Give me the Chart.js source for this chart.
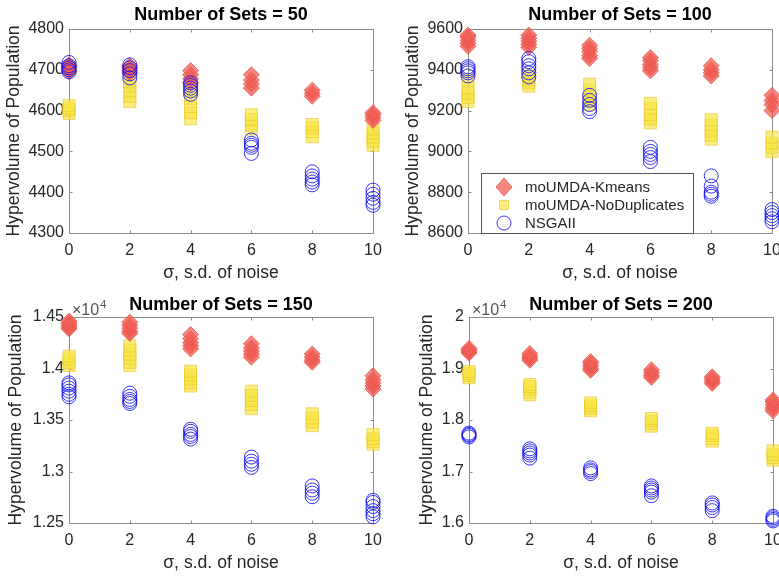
<!DOCTYPE html>
<html>
<head>
<meta charset="utf-8">
<script src="https://cdn.jsdelivr.net/npm/chart.js@4.4.0/dist/chart.umd.min.js"></script>
<style>
  html, body { margin: 0; padding: 0; background: #fff; overflow: hidden; width: 779px; height: 576px; }
  canvas { position: absolute; }
</style>
</head>
<body>
<canvas id="c50" width="390" height="290" style="left:0;top:0"></canvas>
<canvas id="c100" width="400" height="290" style="left:390px;top:0"></canvas>
<canvas id="c150" width="390" height="286" style="left:0;top:290px"></canvas>
<canvas id="c200" width="400" height="286" style="left:390px;top:290px"></canvas>
<script>
const sigmaValues = [0, 2, 4, 6, 8, 10];
const seriesNames = ["moUMDA-Kmeans", "moUMDA-NoDuplicates", "NSGAII"];

// hypervolume of each run, one inner list per sigma value
const kmeans50 = [[4695, 4700, 4705, 4710, 4712], [4692, 4698, 4705, 4710], [4668, 4678, 4688, 4698], [4655, 4665, 4675, 4688], [4635, 4642, 4650], [4576, 4583, 4590, 4595]];
const noDup50 = [[4593, 4600, 4605, 4612], [4622, 4635, 4648, 4660, 4670], [4580, 4595, 4610, 4630, 4648], [4555, 4565, 4578, 4590], [4536, 4548, 4558, 4566], [4515, 4525, 4535, 4545, 4555]];
const nsga50 = [[4695, 4700, 4705, 4710, 4718], [4680, 4690, 4698, 4705, 4712], [4640, 4648, 4655, 4662, 4668], [4495, 4510, 4515, 4520, 4528], [4418, 4425, 4432, 4440, 4450], [4368, 4375, 4385, 4395, 4405]];

const kmeans100 = [[9515, 9530, 9545, 9560, 9570], [9510, 9525, 9540, 9555, 9570], [9455, 9470, 9490, 9505, 9520], [9395, 9410, 9425, 9445, 9460], [9370, 9385, 9400, 9420], [9200, 9230, 9250, 9275]];
const noDup100 = [[9245, 9265, 9285, 9310, 9350], [9320, 9335, 9350, 9370], [9230, 9250, 9270, 9300, 9330], [9140, 9160, 9180, 9210, 9235], [9060, 9080, 9100, 9130, 9155], [9000, 9020, 9040, 9070]];
const nsga100 = [[9370, 9385, 9395, 9405, 9415], [9365, 9385, 9405, 9420, 9440, 9455], [9195, 9210, 9230, 9250, 9275], [8950, 8970, 8985, 9000, 9020], [8780, 8790, 8800, 8830, 8880], [8655, 8670, 8685, 8700, 8715]];

const kmeans150 = [[14385, 14400, 14420, 14440, 14460], [14340, 14360, 14390, 14420, 14450], [14190, 14220, 14250, 14290, 14330], [14110, 14140, 14170, 14200, 14240], [14060, 14080, 14110, 14140], [13800, 13830, 13860, 13890, 13930]];
const noDup150 = [[14030, 14060, 14090, 14120], [14030, 14060, 14100, 14140, 14180, 14220], [13830, 13860, 13900, 13940, 13975], [13610, 13650, 13690, 13740, 13780], [13445, 13480, 13520, 13560], [13265, 13290, 13320, 13360]];
const nsga150 = [[13725, 13750, 13780, 13810, 13840, 13860], [13660, 13680, 13700, 13730, 13760], [13315, 13340, 13360, 13390, 13410], [13040, 13070, 13100, 13140], [12755, 12790, 12820, 12860], [12560, 12590, 12620, 12660, 12700, 12720]];

const kmeans200 = [[19300, 19330, 19360, 19390], [19160, 19200, 19240, 19290], [18965, 19000, 19050, 19100, 19135], [18830, 18870, 18920, 18975], [18710, 18750, 18800, 18840], [18180, 18230, 18290, 18350, 18390]];
const noDup200 = [[18820, 18860, 18900, 18940], [18490, 18540, 18600, 18650, 18690], [18180, 18230, 18280, 18330], [17880, 17930, 17980, 18030], [17590, 17640, 17700, 17740], [17220, 17270, 17330, 17400]];
const nsga200 = [[17670, 17700, 17720, 17745], [17260, 17320, 17360, 17400, 17440], [16960, 17000, 17030, 17070], [16530, 16600, 16640, 16680, 16720], [16240, 16300, 16350, 16390], [16040, 16070, 16100, 16130]];

const FONT = "'Liberation Sans', Arial, Helvetica, sans-serif";
const AXIS_GRAY = "#8c8c8c";
const TEXT_GRAY = "#262626";

const styles = [
  { pointStyle: "rectRot", pointRadius: 8, backgroundColor: "rgba(240,95,85,0.75)", borderColor: "rgba(232,80,70,0.75)", order: 1 },
  { pointStyle: "rect", pointRadius: 8.5, backgroundColor: "rgba(248,230,70,0.68)", borderColor: "rgba(236,196,40,0.6)", order: 2 },
  { pointStyle: "circle", pointRadius: 7, backgroundColor: "rgba(0,0,0,0)", borderColor: "rgba(20,20,245,0.85)", order: 0 }
];

function toPoints(groups) {
  const pts = [];
  groups.forEach((vals, i) => vals.forEach(v => pts.push({ x: sigmaValues[i], y: v })));
  return pts;
}

// axes box with inward tick marks, like matlab
const boxPlugin = {
  id: "box",
  beforeDatasetsDraw(chart) {
    const { ctx, chartArea: a, scales: { x, y } } = chart;
    const L = Math.round(a.left) + 0.5, R = Math.round(a.right) + 0.5;
    const T = Math.round(a.top) + 0.5, B = Math.round(a.bottom) + 0.5;
    ctx.save();
    ctx.strokeStyle = AXIS_GRAY;
    ctx.lineWidth = 1;
    ctx.beginPath();
    ctx.rect(L, T, R - L, B - T);
    x.ticks.forEach(t => {
      const px = Math.round(x.getPixelForValue(t.value)) + 0.5;
      ctx.moveTo(px, B); ctx.lineTo(px, B - 3);
      ctx.moveTo(px, T); ctx.lineTo(px, T + 3);
    });
    y.ticks.forEach(t => {
      const py = Math.round(y.getPixelForValue(t.value)) + 0.5;
      ctx.moveTo(L, py); ctx.lineTo(L + 3, py);
      ctx.moveTo(R, py); ctx.lineTo(R - 3, py);
    });
    ctx.stroke();
    ctx.restore();
  }
};

const exponentPlugin = {
  id: "exponent",
  afterDraw(chart, args, opts) {
    if (!opts.show) return;
    const { ctx, chartArea: a } = chart;
    ctx.save();
    ctx.fillStyle = "#555";
    ctx.textBaseline = "alphabetic";
    ctx.font = "16px " + FONT;
    ctx.fillText("\u00d710", a.left + 3, a.top - 2);
    const w = ctx.measureText("\u00d710").width;
    ctx.font = "11px " + FONT;
    ctx.fillText("4", a.left + 3 + w + 1, a.top - 9);
    ctx.restore();
  }
};

const legendPlugin = {
  id: "boxLegend",
  afterDraw(chart, args, opts) {
    if (!opts.show) return;
    const { ctx, chartArea: a } = chart;
    const bx = Math.round(a.left) + 13.5, by = Math.round(a.top) + 144.5;
    ctx.save();
    ctx.fillStyle = "#fff";
    ctx.strokeStyle = "#555";
    ctx.lineWidth = 1;
    ctx.fillRect(bx, by, 212, 60);
    ctx.strokeRect(bx, by, 212, 60);
    const mx = a.left + 36, tx = a.left + 57;
    const rows = [a.top + 158, a.top + 176, a.top + 194];
    // diamond
    ctx.fillStyle = styles[0].backgroundColor;
    ctx.strokeStyle = styles[0].borderColor;
    ctx.beginPath();
    ctx.moveTo(mx, rows[0] - 9); ctx.lineTo(mx + 8, rows[0]); ctx.lineTo(mx, rows[0] + 9); ctx.lineTo(mx - 8, rows[0]);
    ctx.closePath(); ctx.fill(); ctx.stroke();
    // square
    ctx.fillStyle = styles[1].backgroundColor;
    ctx.strokeStyle = styles[1].borderColor;
    ctx.fillRect(mx - 4.5, rows[1] - 4.5, 9, 9);
    ctx.strokeRect(mx - 4.5, rows[1] - 4.5, 9, 9);
    // circle
    ctx.strokeStyle = styles[2].borderColor;
    ctx.beginPath(); ctx.arc(mx, rows[2], 7, 0, Math.PI * 2); ctx.stroke();
    ctx.fillStyle = TEXT_GRAY;
    ctx.font = "15px " + FONT;
    ctx.textBaseline = "middle";
    seriesNames.forEach((n, i) => ctx.fillText(n, tx, rows[i] + 1));
    ctx.restore();
  }
};

function makeChart(id, title, groups, yMin, yMax, yStep, scaled, lay) {
  const canvas = document.getElementById(id);
  new Chart(canvas, {
    type: "scatter",
    data: {
      datasets: groups.map((g, i) => ({
        label: seriesNames[i],
        data: toPoints(g),
        pointStyle: styles[i].pointStyle,
        pointRadius: styles[i].pointRadius,
        backgroundColor: styles[i].backgroundColor,
        borderColor: styles[i].borderColor,
        borderWidth: 1,
        order: styles[i].order,
        clip: false
      }))
    },
    options: {
      responsive: false,
      animation: false,
      events: [],
      layout: { padding: { left: 0, top: 0, bottom: 0, right: lay.right } },
      plugins: {
        legend: { display: false },
        tooltip: { enabled: false },
        title: {
          display: true,
          text: title,
          fullSize: false,
          color: "#000",
          font: { family: FONT, size: 18, weight: "bold" },
          padding: { top: 4, bottom: lay.top - 25.6 }
        },
        exponent: { show: scaled },
        boxLegend: { show: !!lay.legend }
      },
      scales: {
        x: {
          type: "linear",
          min: 0,
          max: 10,
          ticks: { stepSize: 2, color: TEXT_GRAY, padding: 8, font: { family: FONT, size: 16 } },
          grid: { display: false, drawTicks: false },
          border: { display: false },
          title: {
            display: true,
            text: "\u03c3, s.d. of noise",
            color: TEXT_GRAY,
            font: { family: FONT, size: 17.6 },
            padding: { top: 0, bottom: lay.xTitlePad }
          },
          afterFit: s => { s.height = lay.h - lay.bottom; }
        },
        y: {
          type: "linear",
          min: yMin,
          max: yMax,
          ticks: {
            stepSize: yStep,
            color: TEXT_GRAY,
            padding: 5,
            font: { family: FONT, size: 16 },
            callback: v => scaled ? +(v / 1e4).toFixed(2) : v
          },
          grid: { display: false, drawTicks: false },
          border: { display: false },
          title: {
            display: true,
            text: "Hypervolume of Population",
            color: TEXT_GRAY,
            font: { family: FONT, size: 17.6 },
            padding: { top: lay.yTitleX - 10.56, bottom: 0 }
          },
          afterFit: s => { s.width = lay.left; }
        }
      }
    },
    plugins: [boxPlugin, exponentPlugin, legendPlugin]
  });
}

makeChart("c50", "Number of Sets = 50", [kmeans50, noDup50, nsga50], 4300, 4800, 100, false,
  { left: 69, right: 17, top: 29, bottom: 233, h: 290, yTitleX: 14, xTitlePad: 6.4 });
makeChart("c100", "Number of Sets = 100", [kmeans100, noDup100, nsga100], 8600, 9600, 200, false,
  { left: 78, right: 18, top: 29, bottom: 233, h: 290, yTitleX: 23, xTitlePad: 6.4, legend: true });
makeChart("c150", "Number of Sets = 150", [kmeans150, noDup150, nsga150], 12500, 14500, 500, true,
  { left: 69, right: 17, top: 27, bottom: 233, h: 286, yTitleX: 16, xTitlePad: 2.4 });
makeChart("c200", "Number of Sets = 200", [kmeans200, noDup200, nsga200], 16000, 20000, 1000, true,
  { left: 79, right: 17, top: 27, bottom: 233, h: 286, yTitleX: 37, xTitlePad: 2.4 });
</script>
</body>
</html>
